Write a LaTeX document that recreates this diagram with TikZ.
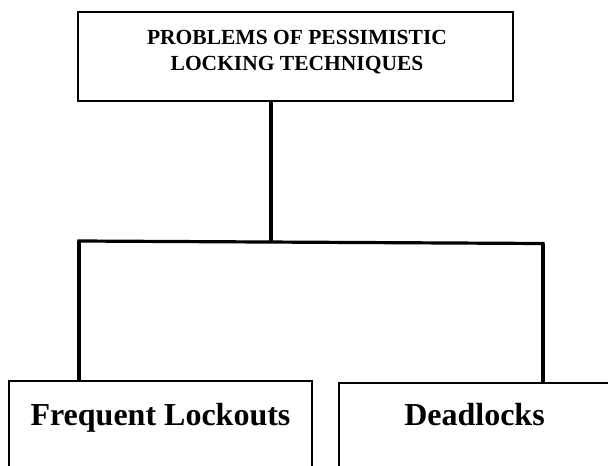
\documentclass[tikz,border=0pt]{standalone}
\usepackage{fontspec}
\setmainfont{Liberation Serif}
\begin{document}
\begin{tikzpicture}[x=1pt,y=-1pt,
  box/.style={draw=black,line width=1.8pt,rectangle,inner sep=0pt},
  conn/.style={draw=black,line width=3.2pt},
  big/.style={font=\bfseries\fontsize{32}{38}\selectfont,anchor=base,inner sep=0pt},
  small/.style={font=\bfseries\fontsize{21.5}{26}\selectfont,anchor=base,inner sep=0pt,align=center}]
\useasboundingbox (0,0) rectangle (608,466);
\clip (0,0) rectangle (608,466);
\fill[white] (0,0) rectangle (608,466);
% top box
\node[box,minimum width=435pt,minimum height=89pt] (top) at (295.5,56.5) {};
\node[small] (toptext) at (297,70) {PROBLEMS OF PESSIMISTIC\\LOCKING TECHNIQUES};
% bottom boxes
\node[box,minimum width=303pt,minimum height=140pt] (left) at (160.5,451) {};
\node[box,minimum width=270pt,minimum height=140pt] (right) at (474,453) {};
\node[big] (lefttext) at (160.5,425) {Frequent Lockouts};
\node[big] (righttext) at (474.5,425) {Deadlocks};
% connectors
\coordinate (jl) at (79,241);
\coordinate (jr) at (543,243.5);
\coordinate (jc) at (271,242);
\draw[conn] (top.south -| jc) -- (jc);
\draw[conn,line cap=rect] (jl) -- (jr);
\draw[conn] (jl) -- (left.north -| jl);
\draw[conn] (jr) -- (right.north -| jr);
\end{tikzpicture}
\end{document}
